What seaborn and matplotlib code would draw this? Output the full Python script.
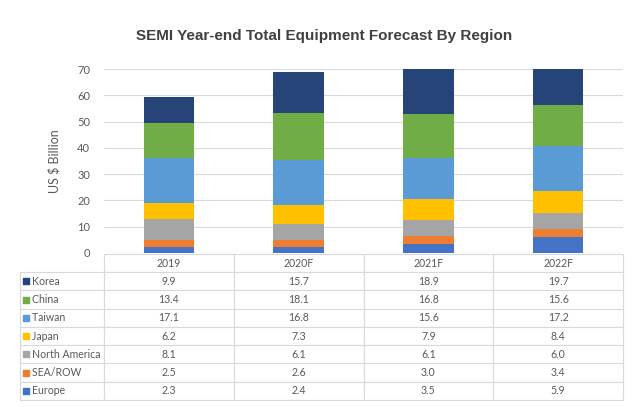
import matplotlib
matplotlib.use("Agg")
import matplotlib.pyplot as plt
import seaborn as sns

# data (US $ billion)
years = ['2019', '2020F', '2021F', '2022F']
korea = [9.9, 15.7, 18.9, 19.7]
china = [13.4, 18.1, 16.8, 15.6]
taiwan = [17.1, 16.8, 15.6, 17.2]
japan = [6.2, 7.3, 7.9, 8.4]
north_america = [8.1, 6.1, 6.1, 6.0]
sea_row = [2.5, 2.6, 3.0, 3.4]
europe = [2.3, 2.4, 3.5, 5.9]

# table order, top to bottom
regions = ['Korea', 'China', 'Taiwan', 'Japan', 'North America', 'SEA/ROW', 'Europe']
series = [korea, china, taiwan, japan, north_america, sea_row, europe]
colors = ['#264478', '#70AD47', '#5B9BD5', '#FFC000', '#A5A5A5', '#ED7D31', '#4472C4']

sns.set_style("white")
plt.rcParams['font.family'] = ['Lato', 'DejaVu Sans']
grey = '#595959'

fig = plt.figure(figsize=(6.4, 4.07), dpi=100)
ax = fig.add_axes([0.1625, 0.3784, 0.811, 0.452])

# stacked bars, bottom (Europe) first
bottom = [0.0] * len(years)
for name, vals, col in reversed(list(zip(regions, series, colors))):
    sns.barplot(x=years, y=vals, bottom=bottom, color=col, width=0.39,
                saturation=1, linewidth=0, ax=ax, zorder=3)
    bottom = [b + v for b, v in zip(bottom, vals)]

ax.set_ylim(0, 70)
ax.set_yticks(range(0, 71, 10))
ax.tick_params(axis='y', colors=grey, labelsize=8, length=0, pad=10)
ax.set_xticks(range(len(years)))
ax.set_xticklabels([])
ax.tick_params(axis='x', length=0)
ax.set_xlim(-0.5, len(years) - 0.5)
ax.grid(axis='y', color='#D9D9D9', linewidth=0.8, zorder=0)
for s in ax.spines.values():
    s.set_visible(False)
ax.set_xlabel('')
ax.set_ylabel('US $ Billion', color=grey, fontsize=9, labelpad=12)

fig.text(0.507, 0.912, 'SEMI Year-end Total Equipment Forecast By Region',
         ha='center', va='center', fontsize=11, fontweight='bold',
         color='#404040', family=['Liberation Sans', 'DejaVu Sans'])

# data table under the bars
cell_text = [[''] + years]
for name, vals in zip(regions, series):
    cell_text.append(['    ' + name] + [f'{v:.1f}' for v in vals])

label_w = 84 / 519
tbl = ax.table(cellText=cell_text,
               colWidths=[label_w] + [1 / 4] * 4,
               bbox=[-label_w, -0.799, 1 + label_w, 0.794],
               cellLoc='center')
tbl.auto_set_font_size(False)
tbl.set_fontsize(7.6)
for (r, c), cell in tbl.get_celld().items():
    cell.set_edgecolor('#D9D9D9')
    cell.set_linewidth(0.8)
    cell.get_text().set_color(grey)
    if c == 0:
        cell.get_text().set_ha('left')
        cell._loc = 'left'
        cell.PAD = 0.01
    if r == 0 and c == 0:
        cell.visible_edges = ''

# legend keys in the row-label column
nrows = len(regions) + 1
row_h = 0.794 / nrows
for i, col in enumerate(colors):
    y = 0.794 - 0.799 - (i + 1.5) * row_h
    ax.scatter([-label_w + 0.011], [y], marker='s', s=14, color=col,
               transform=ax.transAxes, clip_on=False, zorder=5)

fig.savefig('out.png', dpi=100, facecolor='white')
